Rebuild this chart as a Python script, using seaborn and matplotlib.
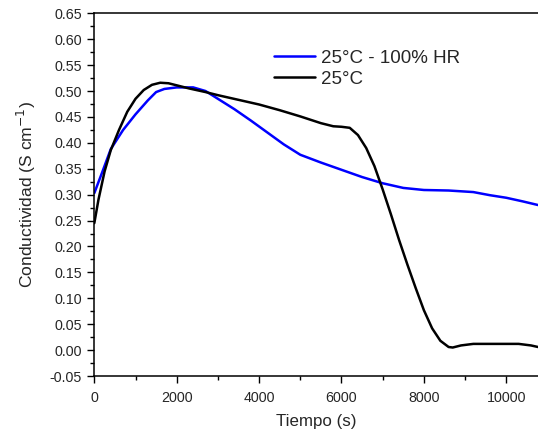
import numpy as np
import pandas as pd
import seaborn as sns
import matplotlib.pyplot as plt
from matplotlib.ticker import MultipleLocator

# Conductivity vs time
t_hr = [0, 200, 400, 700, 1000, 1300, 1500, 1700, 2000, 2400, 2700, 3000,
        3400, 3800, 4200, 4600, 5000, 5500, 6000, 6500, 7000, 7500, 8000,
        8600, 9200, 9600, 10000, 10400, 10770]
c_hr = [0.303, 0.345, 0.388, 0.425, 0.455, 0.482, 0.498, 0.504, 0.507, 0.507,
        0.500, 0.485, 0.465, 0.443, 0.420, 0.397, 0.377, 0.362, 0.348, 0.334,
        0.322, 0.313, 0.309, 0.308, 0.305, 0.299, 0.294, 0.287, 0.280]

t_dry = [0, 100, 250, 400, 600, 800, 1000, 1200, 1400, 1600, 1800, 2000,
         2300, 2700, 3000, 3500, 4000, 4500, 5000, 5500, 5800, 6000, 6200,
         6400, 6600, 6800, 7000, 7200, 7400, 7600, 7800, 8000, 8200, 8400,
         8600, 8700, 8900, 9200, 9600, 10000, 10300, 10600, 10770]
c_dry = [0.245, 0.290, 0.345, 0.386, 0.425, 0.460, 0.485, 0.502, 0.512, 0.516,
         0.515, 0.511, 0.505, 0.498, 0.492, 0.483, 0.474, 0.463, 0.451, 0.438,
         0.432, 0.431, 0.429, 0.415, 0.390, 0.355, 0.310, 0.262, 0.212, 0.165,
         0.120, 0.077, 0.042, 0.018, 0.006, 0.005, 0.009, 0.012, 0.012, 0.012,
         0.012, 0.009, 0.006]

labels = ['25°C - 100% HR', '25°C']
colors = {'25°C - 100% HR': '#0000ff', '25°C': '#000000'}

df = pd.concat([
    pd.DataFrame({'t': t_hr, 'c': c_hr, 'serie': labels[0]}),
    pd.DataFrame({'t': t_dry, 'c': c_dry, 'serie': labels[1]}),
])

sns.set_style('ticks')
plt.rcParams['font.family'] = ['Liberation Sans', 'DejaVu Sans']

fig = plt.figure(figsize=(5.38, 4.32), dpi=100)
ax = fig.add_axes([0.1753, 0.1296, 0.8247, 0.8396])

sns.lineplot(data=df, x='t', y='c', hue='serie', hue_order=labels,
             palette=colors, linewidth=1.8, sort=False, estimator=None, ax=ax)

ax.set_xlim(0, 10770)
ax.set_ylim(-0.05, 0.65)
ax.xaxis.set_major_locator(MultipleLocator(2000))
ax.xaxis.set_minor_locator(MultipleLocator(1000))
ax.yaxis.set_major_locator(MultipleLocator(0.05))
ax.yaxis.set_minor_locator(MultipleLocator(0.025))
ax.yaxis.set_major_formatter(plt.FuncFormatter(lambda v, p: f'{v:.2f}'))
ax.tick_params(which='major', length=5, width=1, labelsize=10.3,
               color='black', pad=4)
ax.tick_params(axis='x', which='major', pad=6)
ax.tick_params(which='minor', length=3, width=1, color='black')
ax.spines['right'].set_visible(False)
for s in ['left', 'bottom', 'top']:
    ax.spines[s].set_color('black')
    ax.spines[s].set_linewidth(1.1)

ax.set_xlabel('Tiempo (s)', fontsize=12.2, labelpad=6)
ax.set_ylabel('Conductividad (S cm$^{-1}$)', fontsize=12.6, labelpad=8)

ax.legend(title=None, frameon=False, fontsize=13.5, loc='upper left',
          bbox_to_anchor=(0.404, 0.90), borderpad=0, borderaxespad=0,
          handlelength=2.2, handletextpad=0.35, labelspacing=0.2)

fig.savefig('out.png', dpi=100)
